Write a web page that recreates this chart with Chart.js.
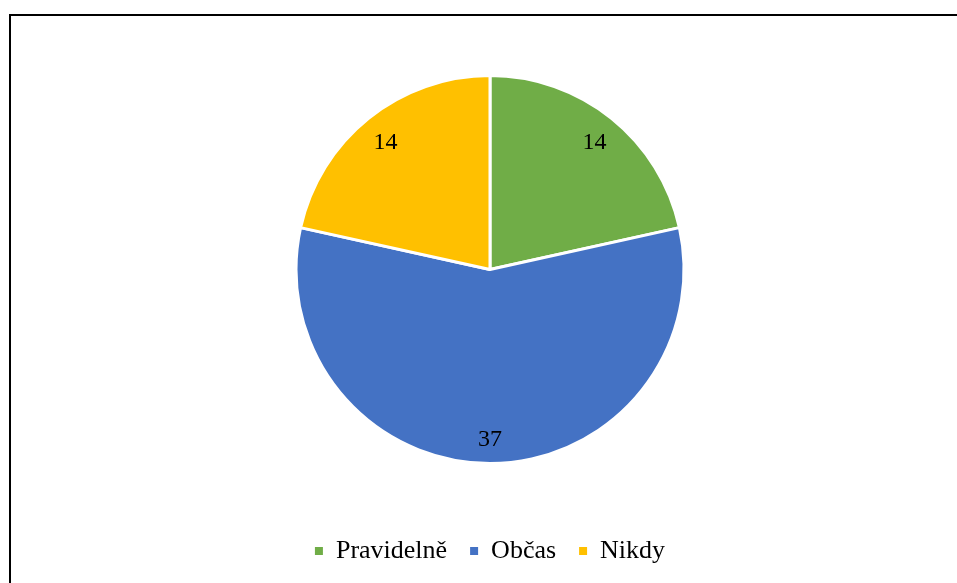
<!DOCTYPE html>
<html>
<head>
<meta charset="utf-8">
<script src="https://cdn.jsdelivr.net/npm/chart.js@4"></script>
<style>
    body { margin: 0; background: #fff; overflow: hidden; }
    #frame { position: absolute; left: 9px; top: 14px; width: 1000px; height: 700px; border: 2px solid #000; }
    #wrap { position: absolute; left: 0; top: 0; width: 957px; height: 583px; }
</style>
</head>
<body>
<div id="frame"></div>
<div id="wrap"><canvas id="pieChart"></canvas></div>
<script>
    var categories = ['Pravidelně', 'Občas', 'Nikdy'];
    var values = [14, 37, 14];
    var colors = ['#70AD47', '#4472C4', '#FFC000'];

    // value labels inside each slice
    var sliceLabels = {
        id: 'sliceLabels',
        afterDatasetsDraw: function (chart) {
            var ctx = chart.ctx;
            var meta = chart.getDatasetMeta(0);
            ctx.save();
            ctx.font = '24px "Liberation Serif"';
            ctx.fillStyle = '#000';
            ctx.textAlign = 'center';
            ctx.textBaseline = 'middle';
            meta.data.forEach(function (arc, i) {
                var p = arc.getProps(['x', 'y', 'startAngle', 'endAngle', 'outerRadius'], true);
                var mid = (p.startAngle + p.endAngle) / 2;
                var r = p.outerRadius * 0.86;
                ctx.fillText(values[i], p.x + Math.cos(mid) * r, p.y + Math.sin(mid) * r + 3);
            });
            ctx.restore();
        }
    };

    new Chart(document.getElementById('pieChart'), {
        type: 'pie',
        data: {
            labels: categories,
            datasets: [{
                data: values,
                backgroundColor: colors,
                borderColor: '#fff',
                borderWidth: 3,
                radius: 194
            }]
        },
        options: {
            responsive: true,
            maintainAspectRatio: false,
            animation: false,
            layout: {
                padding: { top: 24, left: 23, right: 0, bottom: 9 }
            },
            plugins: {
                tooltip: { enabled: false },
                legend: {
                    position: 'bottom',
                    labels: {
                        boxWidth: 8,
                        boxHeight: 8,
                        padding: 23,
                        color: '#000',
                        font: { family: '"Liberation Serif"', size: 26 },
                        generateLabels: function (chart) {
                            return categories.map(function (c, i) {
                                return { text: c, fillStyle: colors[i], strokeStyle: colors[i], lineWidth: 0, index: i };
                            });
                        }
                    }
                }
            }
        },
        plugins: [sliceLabels]
    });
</script>
</body>
</html>
